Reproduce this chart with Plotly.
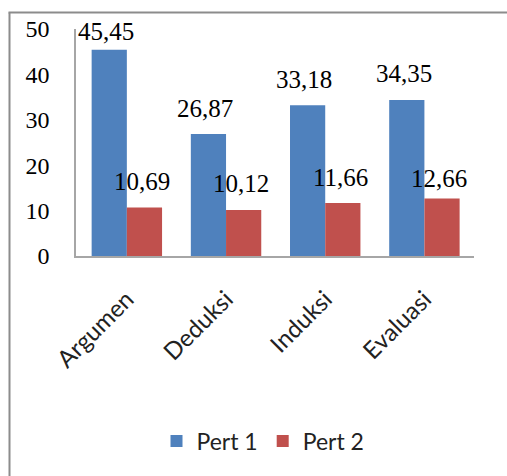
import plotly.graph_objects as go

categories = ["Argumen", "Deduksi", "Induksi", "Evaluasi"]
pert1 = [45.45, 26.87, 33.18, 34.35]
pert2 = [10.69, 10.12, 11.66, 12.66]
y_ticks = [0, 10, 20, 30, 40, 50]

# vertical lift of each value label above its bar (pixels)
lift1 = [18, 26, 26, 27]
lift2 = [26, 27, 26, 20]

BLUE = "#4F81BD"
RED = "#C0504D"

W, H = 507, 476
L, R, T, B = 76, 33, 29, 220
pw, ph = W - L - R, H - T - B


def px_x(px):
    return (px - L) / pw


def px_y(py):
    return (H - B - py) / ph


fig = go.Figure()
fig.add_bar(x=categories, y=pert1, name="Pert 1", marker=dict(color=BLUE, line=dict(width=0)))
fig.add_bar(x=categories, y=pert2, name="Pert 2", marker=dict(color=RED, line=dict(width=0)))

serif = dict(family="Liberation Serif, Times New Roman, serif", size=24, color="#000000")
label_font = dict(family="Liberation Serif, Times New Roman, serif", size=25, color="#000000")
sans = dict(family="Lato, Carlito, sans-serif", size=24, color="#222222")

annotations = []
for i, cat in enumerate(categories):
    for vals, lifts, off in ((pert1, lift1, -0.18), (pert2, lift2, 0.18)):
        v = vals[i]
        annotations.append(dict(
            x=i + off, y=v, xref="x", yref="y",
            text=f"{v:.2f}".replace(".", ","),
            showarrow=False, yanchor="middle", xanchor="center",
            yshift=lifts[i], xshift=-3, font=label_font,
        ))

frame = "#8C8C8C"
shapes = [
    dict(type="line", xref="paper", yref="paper",
         x0=px_x(9.5), x1=px_x(9.5), y0=px_y(12.5), y1=px_y(480),
         line=dict(color=frame, width=2)),
    dict(type="line", xref="paper", yref="paper",
         x0=px_x(8.5), x1=px_x(510), y0=px_y(12.5), y1=px_y(12.5),
         line=dict(color=frame, width=2)),
]

fig.update_layout(
    width=W, height=H,
    margin=dict(l=L, r=R, t=T, b=B, autoexpand=False),
    paper_bgcolor="white", plot_bgcolor="white",
    barmode="group", bargap=0.29, bargroupgap=0,
    showlegend=True,
    legend=dict(orientation="h", x=px_x(263), y=px_y(441),
                xanchor="center", yanchor="middle",
                font=dict(family="Lato, Carlito, sans-serif", size=23, color="#222222"),
                itemwidth=30, traceorder="normal"),
    annotations=annotations,
    shapes=shapes,
    xaxis=dict(
        showline=True, linecolor="#A6A6A6", linewidth=1.5,
        tickangle=-45, ticks="", showgrid=False,
        tickfont=sans, ticklabelstandoff=18,
    ),
    yaxis=dict(
        range=[0, 50], tickvals=y_ticks, showgrid=False, zeroline=False,
        showline=True, linecolor="#A6A6A6", linewidth=1.5, ticks="",
        tickfont=serif, ticklabelstandoff=20,
    ),
)

fig.write_html("out.html")
